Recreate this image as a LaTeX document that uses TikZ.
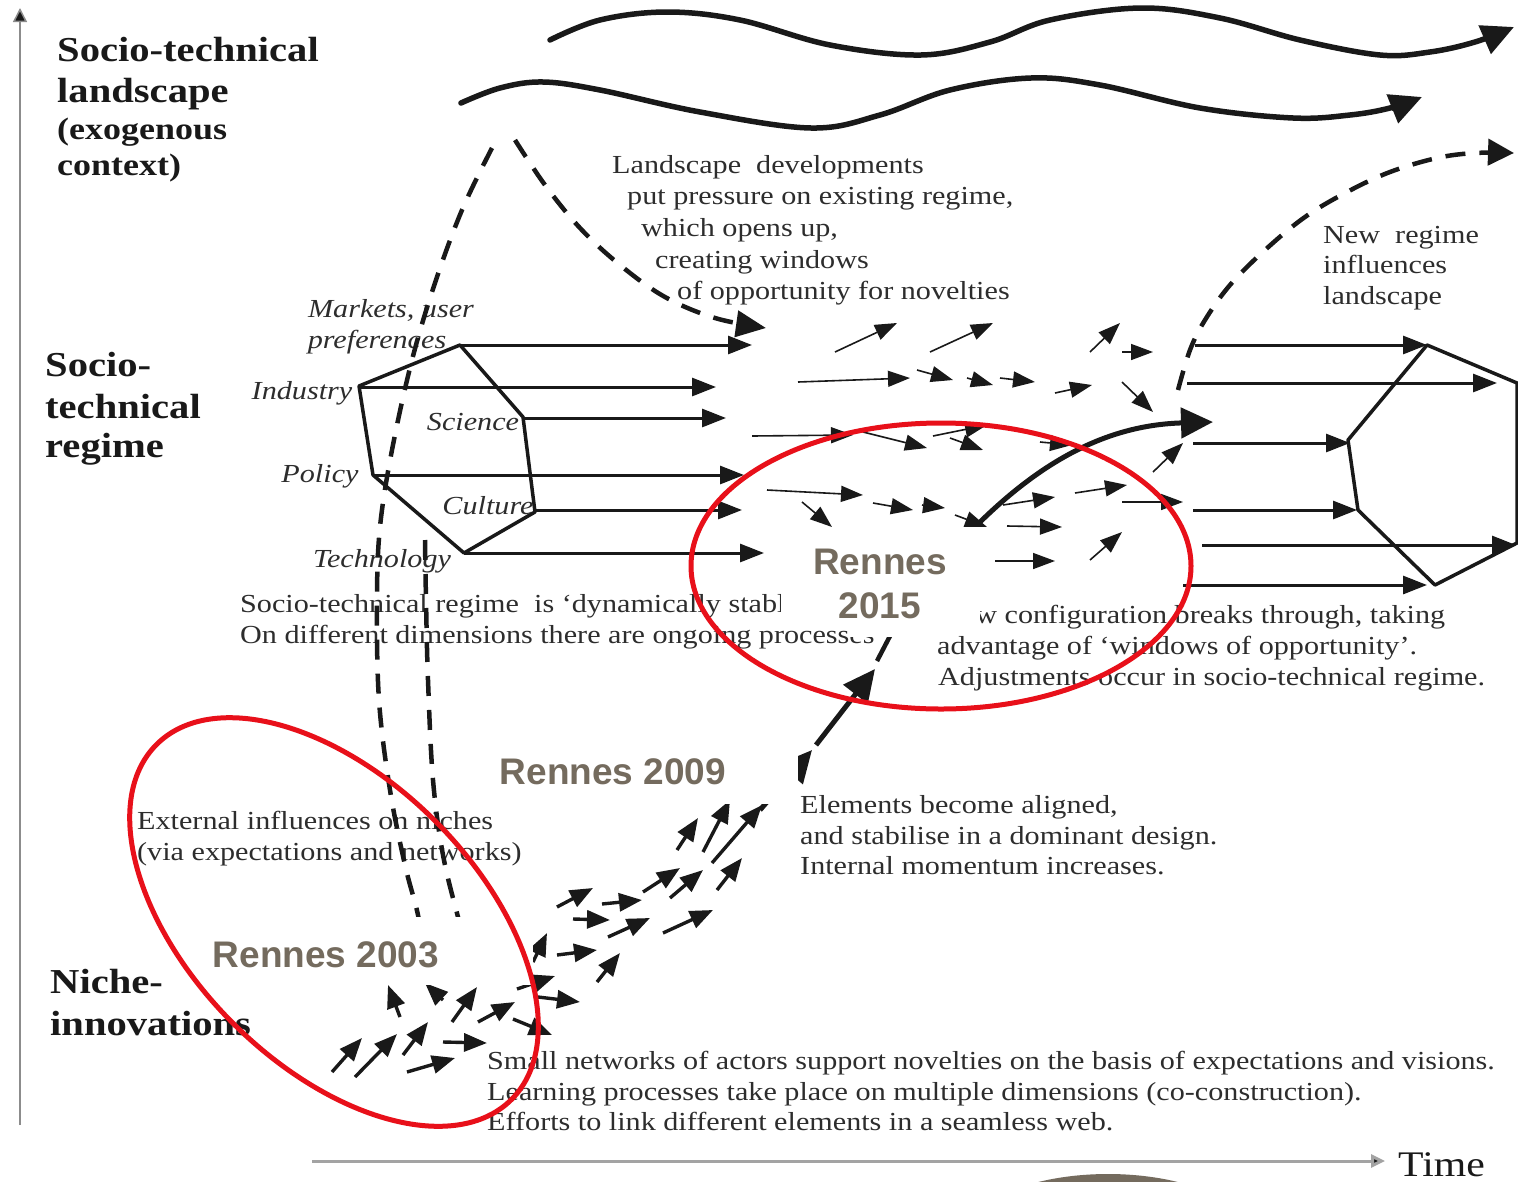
\documentclass[tikz,border=0pt]{standalone}
\usepackage{fontspec}
\setmainfont{Liberation Serif}[FakeStretch=1.16]
\newfontfamily\rennesfont{Liberation Sans}
\usetikzlibrary{arrows.meta}
\definecolor{ink}{RGB}{25,25,25}
\definecolor{txtc}{RGB}{45,45,45}
\definecolor{rennesc}{RGB}{116,107,94}
\definecolor{markc}{RGB}{232,16,26}
\definecolor{axisc}{RGB}{140,140,140}
\tikzset{
  txt/.style={font=\fontsize{26}{31}\selectfont, text=txtc, anchor=base west, inner sep=0pt},
  itl/.style={font=\fontsize{26}{31}\selectfont\itshape, text=txtc, anchor=center, inner sep=0pt},
  bigl/.style={font=\fontsize{35}{42}\selectfont\bfseries, text=ink, anchor=base west, inner sep=0pt},
  midl/.style={font=\fontsize{31}{36}\selectfont\bfseries, text=ink, anchor=base west, inner sep=0pt},
  ren/.style={font=\fontsize{37}{44}\selectfont\rennesfont\bfseries, text=rennesc, anchor=center, inner sep=0pt},
  hexline/.style={line width=3.5pt, draw=ink, line join=round},
  regarrow/.style={line width=3pt, draw=ink, -{Triangle[length=24pt,width=18pt]}},
  midarrow/.style={line width=1.6pt, draw=ink, -{Triangle[length=22pt,width=16pt]}},
  nicharrow/.style={line width=3.4pt, draw=ink, -{Triangle[length=23pt,width=18pt]}},
  wavearrow/.style={line width=5.5pt, draw=ink, line cap=round, -{Triangle[length=32pt,width=30pt]}},
  dashcurve/.style={line width=4.5pt, draw=ink, dash pattern=on 20pt off 14pt},
  thickarrow/.style={line width=5pt, draw=ink, -{Triangle[length=32pt,width=30pt]}},
  ring/.style={line width=5pt, draw=markc},
  hider/.style={fill=white, draw=none}
}
\begin{document}
\begin{tikzpicture}[x=1pt,y=-1pt]
\useasboundingbox (0,0) rectangle (1518,1181);
\clip (0,0) rectangle (1518,1181);
\fill[white] (0,0) rectangle (1518,1181);

% axes
\draw[line width=1.5pt, draw=axisc, -{Triangle[length=14pt,width=14pt,fill=ink]}] (20,1125) -- (20,8);
\coordinate (tstart) at (312,1161);
\coordinate (tend) at (1385,1161);
\draw[line width=3pt, draw=axisc!80, -{Triangle[length=14pt,width=13pt,fill=ink]}] (tstart) -- (tend);
\node[font=\fontsize{36}{42}\selectfont, text=ink, anchor=base west, inner sep=0pt] (time) at (1398,1176) {Time};

% left labels
\node[bigl] (l1) at (57,61) {Socio-technical};
\node[bigl] (l2) at (57,102) {landscape};
\node[midl] (l3) at (57,139) {(exogenous};
\node[midl] (l4) at (57,175) {context)};
\node[bigl] (r1) at (45,376) {Socio-};
\node[bigl] (r2) at (45,418) {technical};
\node[bigl] (r3) at (45,457) {regime};
\node[bigl] (n1) at (50,993) {Niche-};
\node[bigl] (n2) at (50,1035) {innovations};

% wavy landscape arrows
\draw[wavearrow] plot[smooth, tension=0.6] coordinates {(550,40) (600,20) (667,12) (740,20) (830,45) (921,55) (990,42) (1050,20) (1141,8) (1220,18) (1300,40) (1380,55) (1430,52) (1475,42) (1514,27)};
\draw[wavearrow] plot[smooth, tension=0.6] coordinates {(461,103) (500,88) (543,82) (600,90) (700,112) (811,128) (880,115) (950,90) (1031,78) (1100,85) (1200,108) (1293,118) (1350,115) (1390,108) (1422,97)};

% landscape text
\node[txt] (t1) at (612,173) {Landscape\ \ developments};
\node[txt] (t2) at (627,204) {put pressure on existing regime,};
\node[txt] (t3) at (641,236) {which opens up,};
\node[txt] (t4) at (655,268) {creating windows};
\node[txt] (t5) at (677,299) {of opportunity for novelties};

\node[txt] (nr1) at (1323,243) {New\ \ regime};
\node[txt] (nr2) at (1323,273) {influences};
\node[txt] (nr3) at (1323,304) {landscape};

% regime texts
\node[txt] (s1) at (240,612) {Socio-technical regime\ \ is ‘dynamically stable’.};
\node[txt] (s2) at (240,643) {On different dimensions there are ongoing processes};
\node[txt] (c1) at (940,623) {New configuration breaks through, taking};
\node[txt] (c2) at (937,654) {advantage of ‘windows of opportunity’.};
\node[txt] (c3) at (938,685) {Adjustments occur in socio-technical regime.};
\node[txt] (e1) at (800,813) {Elements become aligned,};
\node[txt] (e2) at (800,844) {and stabilise in a dominant design.};
\node[txt] (e3) at (800,874) {Internal momentum increases.};
\node[txt] (x1) at (137,829) {External influences on niches};
\node[txt] (x2) at (137,860) {(via expectations and networks)};
\node[txt] (sn1) at (487,1069) {Small networks of actors support novelties on the basis of expectations and visions.};
\node[txt] (sn2) at (487,1100) {Learning processes take place on multiple dimensions (co-construction).};
\node[txt] (sn3) at (487,1130) {Efforts to link different elements in a seamless web.};

% left hexagon
\draw[hexline] (460,345) -- (523,417) -- (535,512) -- (464,553) -- (373,475) -- (359,386) -- cycle;
\node[itl] (hm1) at (391,310) {Markets, user};
\node[itl] (hm2) at (377,342) {preferences};
\node[itl] (hi) at (302,393) {Industry};
\node[itl] (hs) at (473,422) {Science};
\node[itl] (hp) at (320,476) {Policy};
\node[itl] (hc) at (488,506) {Culture};
\node[itl] (ht) at (382,561) {Technology};
\draw[regarrow] (460,345) -- (752,345);
\draw[regarrow] (360,387) -- (716,387);
\draw[regarrow] (523,418) -- (726,418);
\draw[regarrow] (373,475) -- (744,475);
\draw[regarrow] (535,510) -- (742,510);
\draw[regarrow] (464,553) -- (764,553);

% right hexagon
\draw[hexline] (1427,345) -- (1517,383) -- (1517,543) -- (1435,585) -- (1358,510) -- (1348,440) -- cycle;
\draw[regarrow] (1195,345) -- (1427,345);
\draw[regarrow] (1187,383) -- (1497,383);
\draw[regarrow] (1193,443) -- (1350,443);
\draw[regarrow] (1193,510) -- (1357,510);
\draw[regarrow] (1202,545) -- (1516,545);
\draw[regarrow] (1183,585) -- (1427,585);

% dashed curves
\draw[dashcurve, -{Triangle[length=30pt,width=26pt]}] plot[smooth, tension=0.6] coordinates {(515,140) (545,185) (580,228) (620,265) (665,297) (715,318) (766,328)};
\draw[dashcurve] plot[smooth, tension=0.6] coordinates {(492,148) (462,210) (435,283) (412,360) (392,450) (380,527) (377,600) (379,700) (390,790) (405,865) (418,915) (425,960)};
\draw[dashcurve] plot[smooth, tension=0.6] coordinates {(425,540) (426,600) (428,680) (433,780) (443,855) (458,917) (470,960)};
\draw[dashcurve, -{Triangle[length=26pt,width=26pt]}] plot[smooth, tension=0.6] coordinates {(1178,390) (1190,350) (1205,320) (1230,285) (1265,250) (1305,217) (1347,192) (1390,172) (1437,158) (1475,153) (1514,153)};

% small arrows in regime
\foreach \a/\b in {
  {(835,352)}/{(897,323)}, {(930,352)}/{(993,323)}, {(1090,352)}/{(1120,323)}, {(1122,352)}/{(1153,352)},
  {(798,382)}/{(910,378)}, {(917,370)}/{(953,380)}, {(967,378)}/{(993,385)}, {(1000,378)}/{(1035,382)},
  {(1055,393)}/{(1092,385)}, {(1122,382)}/{(1153,412)},
  {(752,436)}/{(853,435)}, {(863,432)}/{(927,448)}, {(933,436)}/{(987,425)}, {(950,438)}/{(983,450)},
  {(1040,442)}/{(1072,445)}, {(1153,472)}/{(1183,443)},
  {(767,490)}/{(863,495)}, {(802,502)}/{(832,527)}, {(873,503)}/{(913,510)}, {(922,505)}/{(945,508)},
  {(955,515)}/{(987,527)}, {(1003,505)}/{(1055,497)}, {(1075,493)}/{(1127,485)}, {(1122,502)}/{(1183,502)},
  {(1007,526)}/{(1062,527)}, {(995,561)}/{(1055,561)}, {(1090,560)}/{(1122,532)}}
  \draw[midarrow] \a -- \b;

% breakthrough arrow
\draw[thickarrow] (978,524) .. controls (1045,458) and (1110,425) .. (1213,422);

% niche arrows
\foreach \a/\b in {
  {(332,1072)}/{(362,1038)}, {(355,1077)}/{(397,1034)}, {(403,1055)}/{(428,1022)}, {(407,1072)}/{(455,1058)},
  {(443,1042)}/{(487,1043)}, {(452,1022)}/{(477,987)}, {(478,1022)}/{(515,1002)}, {(513,1019)}/{(552,1035)},
  {(400,1017)}/{(388,985)}, {(443,1000)}/{(425,983)}, {(517,989)}/{(555,976)}, {(538,997)}/{(580,1002)},
  {(533,962)}/{(547,933)}, {(557,955)}/{(597,950)}, {(597,982)}/{(620,953)}, {(557,907)}/{(593,888)},
  {(573,919)}/{(610,920)}, {(602,904)}/{(642,900)}, {(608,937)}/{(650,918)}, {(643,892)}/{(680,868)},
  {(663,933)}/{(713,910)}, {(670,898)}/{(703,870)}, {(717,890)}/{(742,858)}, {(677,850)}/{(698,818)},
  {(703,852)}/{(730,800)}, {(712,863)}/{(762,805)}}
  \draw[nicharrow] \a -- \b;

% emergence arrow from niche to regime
\draw[thickarrow] (760,810) -- (812,750);
\draw[thickarrow] (816,745) -- (875,669);
\draw[line width=4.5pt, draw=ink] (877,661) -- (890,636);

% hiders behind the added labels
\fill[hider] (781,527) rectangle (980,626);
\fill[hider] (848,626) rectangle (925,637);
\fill[hider] (490,740) rectangle (798,804);
\fill[hider] (205,917) rectangle (533,985);

% Rennes labels
\node[ren] (ren15a) at (880,562) {Rennes};
\node[ren] (ren15b) at (880,606) {2015};
\node[ren] (ren09) at (613,772) {Rennes 2009};
\node[ren] (ren03) at (326,955) {Rennes 2003};

% red rings
\draw[ring] (941,566) ellipse [x radius=250, y radius=143];
\draw[ring, rotate around={-45:(334,922)}] (334,922) ellipse [x radius=251, y radius=143];

% brown shape at bottom
\fill[rennesc] (1108,1244) ellipse [x radius=150, y radius=70];
\end{tikzpicture}
\end{document}
